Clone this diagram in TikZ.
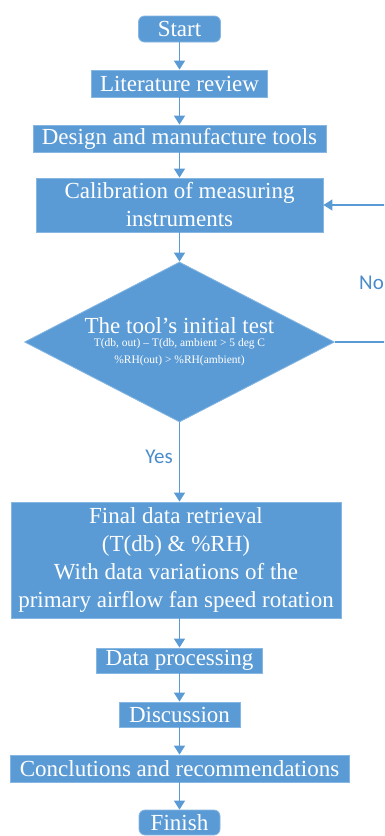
\documentclass[tikz,border=0pt]{standalone}
\usepackage{fontspec}
\setmainfont{Liberation Serif}
\newfontfamily\lblfont{Carlito}
\usetikzlibrary{shapes.geometric,arrows.meta}
\definecolor{boxblue}{HTML}{5B9BD5}
\definecolor{edgeblue}{HTML}{86B6E2}
\definecolor{lineblue}{HTML}{5B9BD5}
\definecolor{lblblue}{HTML}{4A8CCB}
\tikzset{
  procbox/.style={fill=boxblue, draw=edgeblue, line width=0.8pt, text=white, inner sep=0pt,
    font=\fontsize{23}{28}\selectfont, align=center},
  termbox/.style={procbox, rounded corners=6pt},
  decbox/.style={diamond, fill=boxblue, draw=edgeblue, line width=0.8pt, inner sep=0pt},
  dectitle/.style={text=white, inner sep=0pt, font=\fontsize{23}{26}\selectfont},
  decsmall/.style={text=white, inner sep=0pt, font=\fontsize{11.5}{14}\selectfont},
  arr/.style={draw=lineblue, line width=1.4pt, -{Triangle[width=11pt,length=9pt]}},
  lbl/.style={text=lblblue, inner sep=0pt, font=\lblfont\fontsize{21}{24}\selectfont}
}
\begin{document}
\begin{tikzpicture}[x=1pt,y=-1pt]
\useasboundingbox (0,0) rectangle (384,836);
\clip (0,0) rectangle (384,836);
\node[termbox, minimum width=82pt, minimum height=26pt] (start) at (179.5,29) {Start};
\node[procbox, minimum width=176pt, minimum height=27pt] (lit) at (179.5,83.5) {Literature review};
\node[procbox, minimum width=293pt, minimum height=27pt] (design) at (179.5,138.5) {Design and manufacture tools};
\node[procbox, minimum width=287pt, minimum height=54pt] (calib) at (179.5,205) {Calibration of measuring\\instruments};
\node[decbox, minimum width=310pt, minimum height=160pt] (dia) at (179.5,342) {};
\node[dectitle] (dt1) at (179.5,326) {The tool's initial test};
\node[decsmall] (dt2) at (179.5,344) {T(db, out) – T(db, ambient > 5 deg C};
\node[decsmall] (dt3) at (179.5,361) {\%RH(out) > \%RH(ambient)};
\node[procbox, minimum width=330pt, minimum height=116pt] (final) at (176,560)
  {Final data retrieval\\(T(db) \& \%RH)\\With data variations of the\\primary airflow fan speed rotation};
\node[procbox, minimum width=166pt, minimum height=25pt] (proc) at (179.5,660.5) {Data processing};
\node[procbox, minimum width=121pt, minimum height=25pt] (disc) at (179.5,714.5) {Discussion};
\node[procbox, minimum width=339pt, minimum height=27pt] (concl) at (179.5,768.5) {Conclutions and recommendations};
\node[termbox, minimum width=81pt, minimum height=25pt] (finish) at (179.5,822.5) {Finish};
\coordinate (loopA) at (400,342);
\coordinate (loopB) at (400,205);
\draw[arr] (start.south) -- (start.south |- lit.north);
\draw[arr] (lit.south) -- (lit.south |- design.north);
\draw[arr] (design.south) -- (design.south |- calib.north);
\draw[arr] (calib.south) -- (calib.south |- dia.north);
\draw[arr] (dia.south) -- (dia.south |- final.north);
\draw[arr] (dia.east) -- (loopA) -- (loopB) -- (calib.east);
\draw[arr] (dia.south |- final.south) -- (dia.south |- proc.north);
\draw[arr] (proc.south) -- (proc.south |- disc.north);
\draw[arr] (disc.south) -- (disc.south |- concl.north);
\draw[arr] (concl.south) -- (concl.south |- finish.north);
\node[lbl] (yes) at (159,457) {Yes};
\node[lbl, anchor=west] (no) at (359,283) {No};
\end{tikzpicture}
\end{document}
